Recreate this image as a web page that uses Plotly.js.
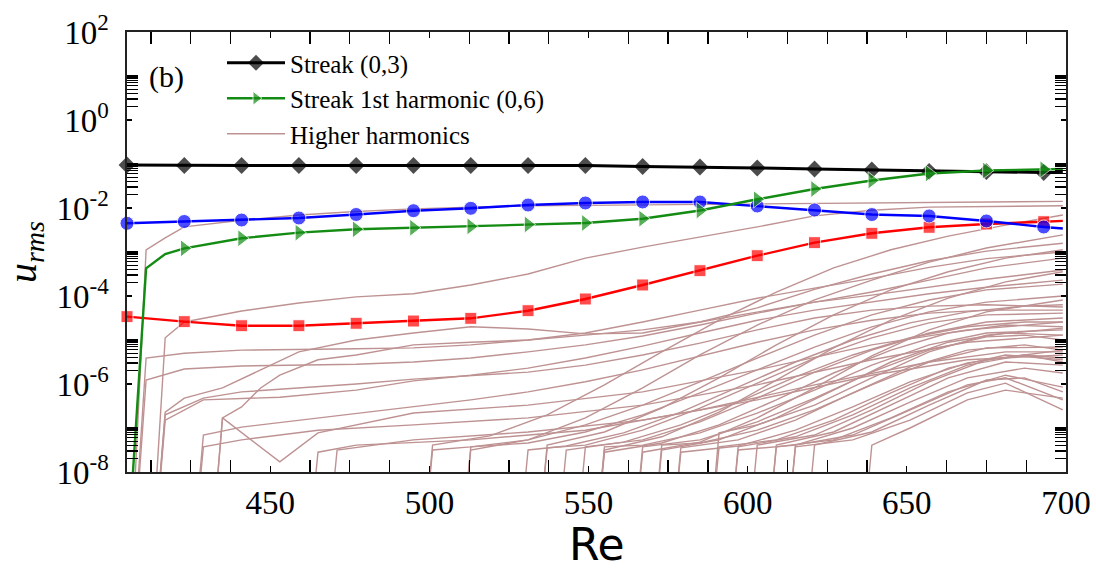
<!DOCTYPE html>
<html>
<head>
<meta charset="utf-8">
<script src="https://cdn.plot.ly/plotly-3.0.1.min.js"></script>
<style>
  html, body { margin: 0; padding: 0; background: #ffffff; }
  #chart { width: 1096px; height: 570px; }
</style>
</head>
<body>
<div id="chart"></div>
<script>
// Reynolds numbers at which the main modes are sampled
const reMain = [405, 423, 441, 459, 477, 495, 513, 531, 549, 567, 585, 603, 621, 639, 657, 675, 693, 699];
// Reynolds numbers that carry a symbol
const reMarkers = [405, 423, 441, 459, 477, 495, 513, 531, 549, 567, 585, 603, 621, 639, 657, 675, 693];

// Streak (0,3)
const streak = [0.0949, 0.0925, 0.0925, 0.0925, 0.0925, 0.0925, 0.0925, 0.0925, 0.0925, 0.0878, 0.0855, 0.0811, 0.0769, 0.0730, 0.0680, 0.0670, 0.0640, 0.0640];
// blue mode
const modeBlue = [4.49e-3, 4.93e-3, 5.33e-3, 5.93e-3, 7.12e-3, 8.69e-3, 9.84e-3, 1.17e-2, 1.30e-2, 1.37e-2, 1.37e-2, 1.11e-2, 9.0e-3, 7.1e-3, 6.6e-3, 5.07e-3, 3.70e-3, 3.42e-3];
// red mode
const modeRed = [3.39e-5, 2.61e-5, 2.11e-5, 2.11e-5, 2.40e-5, 2.70e-5, 3.11e-5, 4.63e-5, 8.55e-5, 1.78e-4, 3.76e-4, 8.24e-4, 1.63e-3, 2.66e-3, 3.64e-3, 4.33e-3, 4.88e-3, 5.10e-3];

// Streak 1st harmonic (0,6), resolved more finely near onset
const reHarmonic = [405, 411, 417, 423, 441, 459, 477, 495, 513, 531, 549, 567, 585, 603, 621, 639, 657, 675, 693, 699];
const streakHarmonic = [8e-11, 4.26e-4, 9.0e-4, 1.21e-3, 2.05e-3, 2.75e-3, 3.28e-3, 3.55e-3, 3.82e-3, 4.22e-3, 4.56e-3, 5.71e-3, 8.77e-3, 1.58e-2, 2.70e-2, 4.22e-2, 6.08e-2, 7.11e-2, 7.58e-2, 7.70e-2];

// Higher harmonics: [Re, log10(u_rms)] pairs per mode
const higherHarmonics = [
  [[405,-12],[411,-2.95],[417,-2.68],[423,-2.43],[441,-2.28],[459,-2.16],[477,-2.08],[495,-2.02],[513,-1.98],[531,-1.95],[549,-1.94],[567,-1.93],[585,-1.92],[603,-1.91],[621,-1.90],[639,-1.88],[657,-1.87],[675,-1.86],[699,-1.85]],
  [[411,-12],[417,-4.95],[423,-4.59],[441,-4.34],[459,-4.16],[477,-4.02],[495,-3.95],[513,-3.75],[531,-3.50],[549,-3.14],[567,-2.89],[585,-2.66],[603,-2.43],[621,-2.18],[639,-2.05],[657,-1.98],[675,-1.96],[699,-1.95]],
  [[405,-12],[411,-5.41],[423,-5.30],[441,-5.23],[477,-5.20],[495,-5.18],[513,-5.11],[531,-5.00],[549,-4.84],[567,-4.59],[585,-4.32],[603,-4.05],[621,-3.82],[639,-3.60],[657,-3.35],[675,-3.15],[699,-3.00]],
  [[405,-12],[411,-5.91],[423,-5.66],[441,-5.59],[477,-5.55],[495,-5.50],[513,-5.41],[531,-5.27],[549,-5.11],[567,-4.91],[585,-4.66],[603,-4.39],[621,-4.14],[639,-3.91],[657,-3.64],[675,-3.36],[699,-3.14]],
  [[411,-12],[417,-6.64],[423,-6.32],[435,-6.09],[447,-5.68],[459,-5.27],[477,-5.00],[495,-4.84],[513,-4.70],[531,-4.75],[549,-4.86],[567,-4.84],[585,-4.59],[603,-4.27],[621,-3.85],[639,-3.50],[657,-3.20],[675,-2.98],[699,-2.80]],
  [[411,-12],[417,-6.82],[429,-6.36],[453,-6.30],[477,-6.14],[495,-5.93],[513,-5.80],[531,-5.64],[549,-5.41],[567,-5.14],[585,-4.84],[603,-4.55],[621,-4.32],[639,-4.14],[657,-3.95],[675,-3.80],[699,-3.64]],
  [[411,-12],[417,-6.70],[429,-6.32],[441,-6.18],[477,-6.00],[495,-5.89],[531,-5.73],[549,-5.57],[567,-5.34],[585,-5.07],[603,-4.77],[621,-4.50],[639,-4.32],[657,-4.23],[675,-4.20],[699,-4.25]],
  [[423,-12],[429,-7.16],[441,-6.98],[465,-6.77],[495,-6.52],[513,-6.36],[531,-6.18],[549,-5.95],[567,-5.68],[585,-5.36],[603,-5.05],[621,-4.77],[639,-4.55],[657,-4.39],[675,-4.32],[699,-4.32]],
  [[423,-12],[429,-7.43],[441,-7.27],[465,-7.05],[495,-6.93],[531,-6.77],[567,-6.48],[603,-6.02],[639,-5.45],[669,-5.05],[699,-4.89]],
  [[429,-12],[435,-6.77],[441,-6.52],[447,-6.09],[453,-5.80],[465,-5.45],[477,-5.34],[495,-5.11],[513,-5.05],[531,-5.00],[549,-4.89],[567,-4.77],[585,-4.59],[603,-4.36],[621,-4.14],[639,-3.98],[657,-3.80],[675,-3.62],[699,-3.41]],
  [[429,-12],[435,-6.77],[453,-7.77],[465,-7.11],[495,-6.66],[531,-6.48],[567,-6.18],[603,-5.68],[639,-5.11],[669,-4.77],[699,-4.59]],
  [[459,-12],[465,-7.55],[477,-7.39],[513,-7.27],[549,-7.05],[585,-6.59],[621,-6.02],[657,-5.50],[681,-5.27],[699,-5.27]],
  [[465,-12],[471,-7.50],[495,-7.27],[531,-7.09],[567,-6.82],[603,-6.36],[639,-5.80],[669,-5.45],[699,-5.34]],
  [[495,-12],[501,-7.50],[513,-7.43],[531,-7.27],[549,-6.93],[567,-6.48],[585,-5.95],[603,-5.41],[621,-4.89],[639,-4.43],[657,-4.09],[675,-3.86],[699,-3.73]],
  [[507,-12],[513,-7.43],[531,-7.34],[549,-7.09],[567,-6.70],[585,-6.20],[603,-5.68],[621,-5.16],[639,-4.70],[657,-4.36],[675,-4.14],[699,-4.00]],
  [[525,-12],[531,-7.50],[543,-7.41],[561,-7.11],[579,-6.64],[597,-6.07],[615,-5.50],[633,-5.00],[651,-4.61],[669,-4.36],[687,-4.23],[699,-4.20]],
  [[531,-12],[537,-7.45],[549,-7.39],[567,-7.05],[585,-6.55],[603,-5.98],[621,-5.41],[639,-4.95],[657,-4.61],[675,-4.43],[699,-4.39]],
  [[537,-12],[543,-7.50],[561,-7.32],[579,-6.93],[597,-6.41],[615,-5.84],[633,-5.34],[651,-4.95],[669,-4.70],[687,-4.59],[699,-4.59]],
  [[543,-12],[549,-7.43],[567,-7.27],[585,-6.86],[603,-6.32],[621,-5.73],[639,-5.23],[657,-4.84],[675,-4.59],[699,-4.50]],
  [[549,-12],[555,-7.55],[573,-7.34],[591,-6.93],[609,-6.36],[627,-5.75],[645,-5.23],[663,-4.84],[681,-4.66],[699,-4.70]],
  [[549,-12],[555,-7.43],[567,-7.39],[585,-7.11],[603,-6.66],[621,-6.14],[639,-5.57],[657,-5.11],[675,-4.84],[699,-4.77]],
  [[561,-12],[567,-7.43],[585,-7.27],[603,-6.86],[621,-6.32],[639,-5.73],[657,-5.23],[675,-4.93],[687,-4.89],[699,-5.00]],
  [[567,-12],[573,-7.50],[591,-7.27],[609,-6.77],[627,-6.14],[645,-5.50],[663,-5.05],[681,-4.84],[699,-4.89]],
  [[567,-12],[573,-7.39],[585,-7.34],[603,-7.05],[621,-6.59],[639,-6.02],[657,-5.50],[675,-5.18],[699,-5.16]],
  [[573,-12],[579,-7.45],[597,-7.27],[615,-6.82],[633,-6.20],[651,-5.61],[669,-5.23],[687,-5.11],[699,-5.23]],
  [[573,-12],[579,-7.55],[597,-7.41],[615,-7.05],[633,-6.52],[651,-5.95],[669,-5.52],[687,-5.34],[699,-5.41]],
  [[585,-12],[591,-7.11],[603,-6.93],[621,-6.48],[639,-5.86],[657,-5.27],[675,-4.89],[699,-4.73]],
  [[585,-12],[591,-7.43],[609,-7.27],[627,-6.82],[645,-6.20],[663,-5.64],[681,-5.34],[699,-5.45]],
  [[591,-12],[597,-7.43],[615,-7.20],[633,-6.70],[651,-6.09],[669,-5.57],[687,-5.34],[699,-5.50]],
  [[591,-12],[597,-7.50],[615,-7.39],[633,-7.00],[651,-6.41],[669,-5.86],[687,-5.64],[699,-5.75]],
  [[597,-12],[603,-7.39],[621,-7.16],[639,-6.59],[657,-5.95],[675,-5.45],[699,-5.23]],
  [[603,-12],[609,-7.39],[627,-7.09],[645,-6.48],[663,-5.86],[681,-5.50],[699,-5.57]],
  [[603,-12],[609,-7.43],[627,-7.27],[645,-6.77],[663,-6.18],[681,-5.80],[699,-6.07]],
  [[609,-12],[615,-7.39],[633,-7.16],[651,-6.59],[669,-6.02],[681,-5.86],[699,-6.36]],
  [[609,-12],[615,-7.43],[633,-7.27],[651,-6.82],[669,-6.20],[681,-5.98],[699,-6.59]],
  [[615,-12],[621,-7.39],[639,-7.09],[657,-6.48],[675,-5.91],[687,-5.86],[699,-6.18]],
  [[633,-12],[639,-7.39],[651,-7.00],[669,-6.36],[681,-6.14],[699,-6.32]],
  [[495,-12],[501,-7.39],[519,-7.18],[537,-6.70],[555,-6.02],[573,-5.27],[591,-4.55],[609,-3.91],[627,-3.36],[645,-2.95],[663,-2.64],[681,-2.39],[699,-2.16]],
  [[507,-12],[513,-7.50],[531,-7.27],[549,-6.77],[567,-6.09],[585,-5.34],[603,-4.66],[621,-4.09],[639,-3.64],[657,-3.23],[675,-2.91],[699,-2.61]],
  [[531,-12],[537,-7.39],[555,-7.09],[573,-6.55],[591,-5.86],[609,-5.11],[627,-4.43],[645,-3.86],[663,-3.45],[681,-3.14],[699,-2.95]],
  [[549,-12],[555,-7.50],[573,-7.20],[591,-6.64],[609,-5.91],[627,-5.18],[645,-4.55],[663,-4.05],[681,-3.68],[699,-3.45]],
  [[561,-12],[567,-7.55],[585,-7.32],[603,-6.77],[621,-6.09],[639,-5.36],[657,-4.77],[675,-4.36],[699,-4.09]]
];

// Axis tick labels
const reTickVals = [450, 500, 550, 600, 650, 700];
const reTickText = ['450', '500', '550', '600', '650', '700'];
const uTickVals = [1e-8, 1e-6, 1e-4, 1e-2, 1, 100];
const uTickText = ['10<sup>-8</sup>', '10<sup>-6</sup>', '10<sup>-4</sup>', '10<sup>-2</sup>', '10<sup>0</sup>', '10<sup>2</sup>'];

const serif = 'Liberation Serif';
const brown = 'rgb(190,146,146)';

// intermediate Re ticks every 12.5
const reMinor = [];
for (let r = 412.5; r < 700; r += 12.5) {
  if (Math.abs(r % 50) > 1e-9) reMinor.push(r);
}
// log minor ticks: 2..9 in the even decades plus every odd decade
const uMinor = [];
for (let p = -8; p <= 0; p += 2) {
  for (let m = 2; m <= 9; m++) uMinor.push(m * Math.pow(10, p));
  uMinor.push(Math.pow(10, p + 1));
}

const traces = [];

higherHarmonics.forEach((curve, k) => {
  traces.push({
    type: 'scatter', mode: 'lines',
    x: curve.map(p => p[0]),
    y: curve.map(p => Math.pow(10, p[1])),
    line: { color: brown, width: 1.4 },
    name: 'Higher harmonics',
    legendgroup: 'hh', legendrank: 3,
    showlegend: k === 0,
    hoverinfo: 'skip'
  });
});

const sizeFor = (reList, size) => reList.map(r => reMarkers.includes(r) ? size : 0);

traces.push({
  type: 'scatter', mode: 'lines+markers',
  x: reMain, y: modeRed,
  line: { color: '#ff0000', width: 2.4 },
  marker: { symbol: 'square', color: '#ff0000', size: sizeFor(reMain, 12) },
  cliponaxis: false, showlegend: false, hoverinfo: 'skip'
});
traces.push({
  type: 'scatter', mode: 'lines+markers',
  x: reMain, y: modeBlue,
  line: { color: '#0000ff', width: 2.4 },
  marker: { symbol: 'circle', color: '#0000ff', size: sizeFor(reMain, 14) },
  cliponaxis: false, showlegend: false, hoverinfo: 'skip'
});
traces.push({
  type: 'scatter', mode: 'lines+markers',
  x: reMain, y: streak,
  line: { color: '#000000', width: 3 },
  marker: { symbol: 'diamond', color: '#000000', size: sizeFor(reMain, 13), line: { width: 0 } },
  name: 'Streak (0,3)', legendgroup: 'streak', legendrank: 1,
  cliponaxis: false, hoverinfo: 'skip'
});
traces.push({
  type: 'scatter', mode: 'lines+markers',
  x: reHarmonic, y: streakHarmonic,
  line: { color: '#148c14', width: 2.4 },
  marker: { symbol: 'triangle-right', color: '#148c14', size: reHarmonic.map(r => (r > 405 && reMarkers.includes(r)) ? 15 : 0) },
  name: 'Streak 1st harmonic (0,6)', legendgroup: 'harm', legendrank: 2,
  hoverinfo: 'skip'
});

const axisCommon = {
  showline: true, linecolor: '#222', linewidth: 1.6, mirror: 'ticks',
  ticks: 'inside', tickcolor: '#000', tickwidth: 1.3,
  showgrid: false, zeroline: false,
  tickfont: { family: serif, size: 33, color: '#000' }
};

const layout = {
  width: 1096, height: 570,
  margin: { l: 127, r: 30, t: 32, b: 98 },
  paper_bgcolor: '#ffffff', plot_bgcolor: '#ffffff',
  font: { family: serif, color: '#000' },
  showlegend: true,
  legend: {
    x: (222 - 127) / 939, xanchor: 'left',
    y: (472 - 40) / 440, yanchor: 'top',
    bgcolor: 'rgba(0,0,0,0)', borderwidth: 0,
    font: { family: serif, size: 25, color: '#000' },
    itemwidth: 58, tracegroupgap: 0
  },
  xaxis: Object.assign({}, axisCommon, {
    range: [405, 700],
    tickmode: 'array', tickvals: reTickVals, ticktext: reTickText,
    ticklen: 6, ticklabelstandoff: 1,
    minor: { tickmode: 'array', tickvals: reMinor, ticks: 'inside', ticklen: 12, tickwidth: 1.3, tickcolor: '#000', showgrid: false }
  }),
  yaxis: Object.assign({}, axisCommon, {
    type: 'log', range: [-8, 2],
    tickmode: 'array', tickvals: uTickVals, ticktext: uTickText,
    ticklen: 5, ticklabelstandoff: 10,
    minor: { tickmode: 'array', tickvals: uMinor, ticks: 'inside', ticklen: 11, tickwidth: 1.3, tickcolor: '#000', showgrid: false },
    title: { text: '<i>u</i><sub><i>rms</i></sub>', font: { family: serif, size: 40, color: '#000' }, standoff: 8 }
  }),
  annotations: [
    {
      xref: 'paper', yref: 'paper', x: (166 - 127) / 939, y: (472 - 77) / 440,
      xanchor: 'center', yanchor: 'middle', showarrow: false,
      text: '(b)', font: { family: serif, size: 30, color: '#000' }
    },
    {
      // x-axis title, set just below the tick labels
      xref: 'paper', yref: 'paper', x: 0.5, y: (472 - 572) / 440,
      xanchor: 'center', yanchor: 'bottom', showarrow: false,
      text: 'Re', font: { family: 'DejaVu Sans', size: 44, color: '#000' }
    }
  ]
};

Plotly.newPlot('chart', traces, layout, { staticPlot: true, displayModeBar: false });
</script>
</body>
</html>
